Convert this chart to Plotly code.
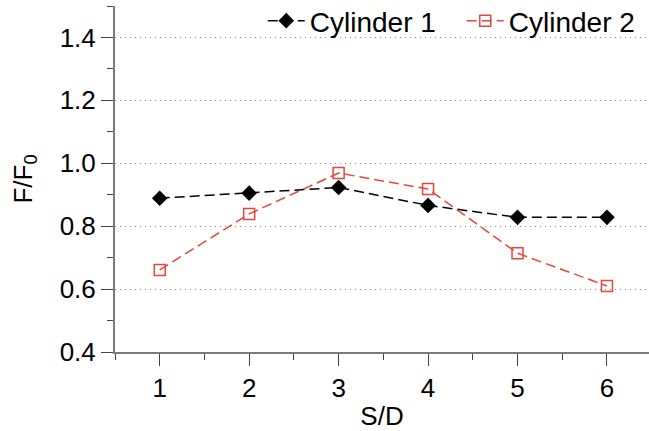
import plotly.graph_objects as go

# Normalised force F/F0 against spacing ratio S/D
spacing = [1, 2, 3, 4, 5, 6]
cyl1 = [0.889, 0.905, 0.923, 0.866, 0.828, 0.828]
cyl2 = [0.661, 0.839, 0.969, 0.918, 0.714, 0.610]
series_names = ["Cylinder 1", "Cylinder 2"]

FONT = "Liberation Sans, Arial, Helvetica, sans-serif"
RED = "#e8453c"

fig = go.Figure()
fig.add_trace(go.Scatter(
    x=spacing, y=cyl1, name=series_names[0], mode="lines+markers",
    line=dict(color="black", width=1.5, dash="10px,5px"),
    marker=dict(symbol="diamond", size=12, color="black"),
))
fig.add_trace(go.Scatter(
    x=spacing, y=cyl2, name=series_names[1], mode="lines+markers",
    line=dict(color=RED, width=1.5, dash="10px,5px"),
    marker=dict(symbol="square-open", size=11, color=RED, line=dict(width=1.5)),
))

axis_common = dict(
    showline=True, linecolor="#7a7a7a", linewidth=2,
    ticks="outside", ticklen=12, tickwidth=1.2, tickcolor="#444",
    tickfont=dict(family=FONT, size=26, color="black"),
    zeroline=False, mirror=False,
)

fig.update_xaxes(
    **axis_common,
    range=[0.5, 6.47], tickmode="array", tickvals=spacing,
    showgrid=False,
    minor=dict(ticks="outside", ticklen=6, tickwidth=1.2, tickcolor="#444",
               tickvals=[0.5, 1.5, 2.5, 3.5, 4.5, 5.5], showgrid=False),
    title=dict(text="S/D", font=dict(family=FONT, size=26, color="black"), standoff=8),
)
fig.update_yaxes(
    **axis_common,
    range=[0.4, 1.5], tickmode="array",
    tickvals=[0.4, 0.6, 0.8, 1.0, 1.2, 1.4],
    ticktext=["0.4", "0.6", "0.8", "1.0", "1.2", "1.4"],
    showgrid=True, gridcolor="#8a8a8a", gridwidth=1, griddash="1px,4px",
    minor=dict(ticks="outside", ticklen=6, tickwidth=1.2, tickcolor="#444",
               tickvals=[0.5, 0.7, 0.9, 1.1, 1.3, 1.5], showgrid=False),
    title=dict(text="F/F<sub>0</sub>", font=dict(family=FONT, size=26, color="black"), standoff=20),
)

fig.update_layout(
    width=649, height=431,
    margin=dict(l=115, r=0, t=6, b=79, autoexpand=False),
    paper_bgcolor="white", plot_bgcolor="white",
    showlegend=True,
    legend=dict(
        orientation="h", x=1.022, y=1.029, xanchor="right", yanchor="top",
        font=dict(family=FONT, size=28, color="black"),
        bgcolor="rgba(0,0,0,0)", itemwidth=37, tracegroupgap=0,
        entrywidth=147,
    ),
)

fig.write_html("out.html")
